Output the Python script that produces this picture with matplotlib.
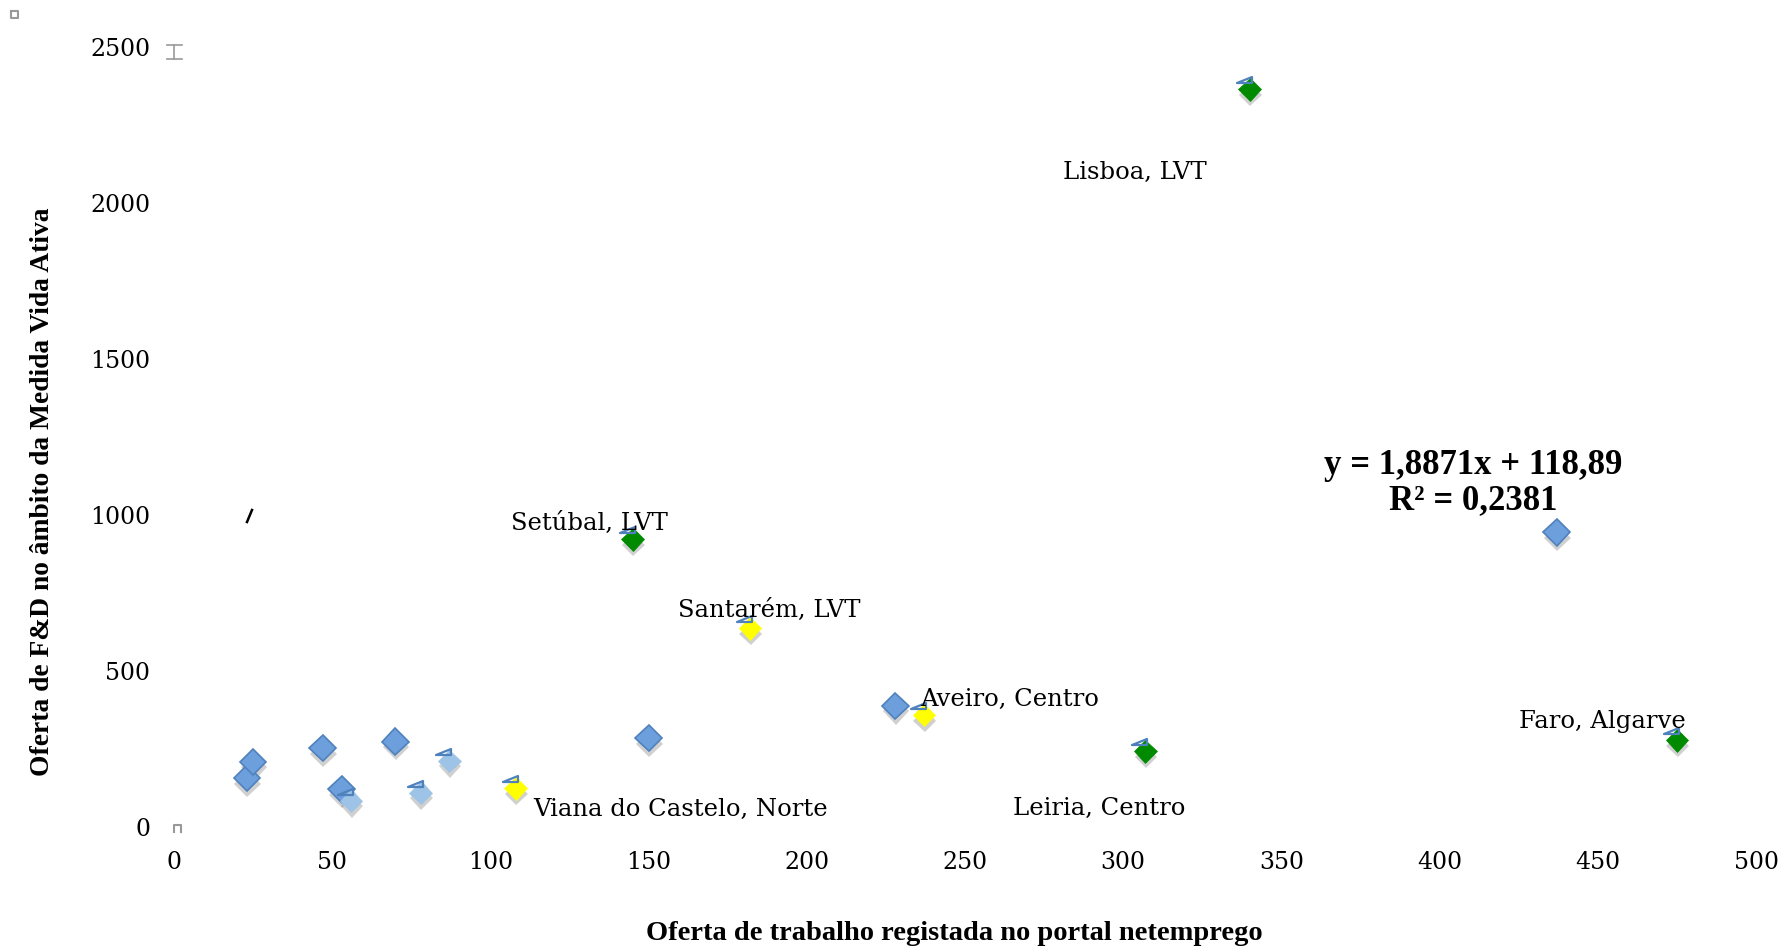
import matplotlib
matplotlib.use("Agg")
import matplotlib.pyplot as plt
import matplotlib.patheffects as pe
from matplotlib.lines import Line2D
from matplotlib.path import Path

plt.rcParams['font.family'] = ['DejaVu Serif', 'Liberation Serif']

# data, grouped by marker colour
blue_x = [23, 25, 47, 53, 70, 150, 228, 437]
blue_y = [157, 209, 253, 121, 274, 285, 388, 944]
light_x = [56, 78, 87]
light_y = [84, 110, 212]
yellow_x = [108, 182, 237]
yellow_y = [124, 637, 359]
green_x = [145, 307, 340, 475]
green_y = [922, 242, 2364, 278]

# point labels: (name, x, y, offset in pixels)
labels = [
    ("Lisboa, LVT", 340, 2364, (-115, -83)),
    ("Setúbal, LVT", 145, 922, (-43, 16)),
    ("Santarém, LVT", 182, 637, (19, 18)),
    ("Aveiro, Centro", 237, 359, (86, 16)),
    ("Faro, Algarve", 475, 278, (-75, 19)),
    ("Leiria, Centro", 307, 242, (-46, -57)),
    ("Viana do Castelo, Norte", 108, 124, (165, -21)),
]

x_ticks = [0, 50, 100, 150, 200, 250, 300, 350, 400, 450, 500]
y_ticks = [0, 500, 1000, 1500, 2000, 2500]

fig = plt.figure(figsize=(17.92, 9.5), dpi=100)
ax = fig.add_axes([174 / 1792, 1 - 827 / 950, (1756 - 174) / 1792, (827 - 47) / 950])

shadow = [pe.SimplePatchShadow(offset=(0.5, -4), shadow_rgbFace='#8a8a8a', alpha=0.4), pe.Normal()]

ax.plot(blue_x, blue_y, 'D', ms=13.5, mfc='#6d9fdc', mec='#4f81bd', mew=1.2, path_effects=shadow)
ax.plot(light_x, light_y, 'D', ms=11.5, mfc='#9dc3e6', mec='#9dc3e6', mew=0.5, path_effects=shadow)
ax.plot(yellow_x, yellow_y, 'D', ms=11.5, mfc='#ffff00', mec='#ffff00', mew=0.5, path_effects=shadow)
ax.plot(green_x, green_y, 'D', ms=11.5, mfc='#008a00', mec='#008a00', mew=0.5, path_effects=shadow)

# small triangle outline glitch sitting on top of the lighter markers
tri = Path([(-12.7, 6), (1.7, 6), (1.7, 12), (-12.7, 6)],
           [Path.MOVETO, Path.LINETO, Path.LINETO, Path.CLOSEPOLY])
for xs, ys in [(light_x, light_y), (yellow_x, yellow_y), (green_x, green_y)]:
    ax.plot(xs, ys, linestyle='none', marker=tri, ms=18.3, mfc='none', mec='#4f81bd', mew=1.6)

for name, x, y, off in labels:
    ax.annotate(name, (x, y), xytext=off, textcoords='offset pixels',
                ha='center', va='center', fontsize=17.5)

ax.text(0.821, 0.441, "y = 1,8871x + 118,89\nR² = 0,2381", transform=ax.transAxes,
        ha='center', va='center', fontsize=25, fontweight='bold', linespacing=1.05,
        family='Liberation Serif')

ax.set_xlim(0, 500)
ax.set_ylim(0, 2500)
ax.set_xticks(x_ticks)
ax.set_yticks(y_ticks)
ax.tick_params(length=0, labelsize=17)
ax.tick_params(axis='x', pad=17)
ax.tick_params(axis='y', pad=17)
for s in ax.spines.values():
    s.set_visible(False)

ax.set_xlabel("Oferta de trabalho registada no portal netemprego", fontsize=20.5,
              fontweight='bold', family='Liberation Serif')
ax.set_ylabel("Oferta de F&D no âmbito da Medida Vida Ativa", fontsize=19.8,
              fontweight='bold', family='Liberation Serif')
ax.xaxis.set_label_coords(0.493, -0.136)
ax.yaxis.set_label_coords(-0.0834, 0.4295)
ax.xaxis.label.set_va('center')
ax.yaxis.label.set_va('center')

# little editor glyphs left over in the original image
fig.add_artist(Line2D([11 / 1792, 18 / 1792, 18 / 1792, 11 / 1792, 11 / 1792],
                      [1 - 11 / 950, 1 - 11 / 950, 1 - 18 / 950, 1 - 18 / 950, 1 - 11 / 950],
                      color='#999999', lw=1.5))
fig.add_artist(Line2D([167 / 1792, 182 / 1792], [1 - 45 / 950] * 2, color='#999999', lw=1.2))
fig.add_artist(Line2D([167 / 1792, 182 / 1792], [1 - 59 / 950] * 2, color='#999999', lw=1.2))
fig.add_artist(Line2D([174 / 1792, 174 / 1792], [1 - 45 / 950, 1 - 59 / 950], color='#999999', lw=1.2))
fig.add_artist(Line2D([174 / 1792, 174 / 1792, 181 / 1792, 181 / 1792],
                      [1 - 832 / 950, 1 - 825 / 950, 1 - 825 / 950, 1 - 832 / 950],
                      color='#999999', lw=1.5))
fig.add_artist(Line2D([247 / 1792, 252 / 1792], [1 - 522 / 950, 1 - 510 / 950], color='black', lw=1.8))

fig.savefig("out.png", dpi=100)
